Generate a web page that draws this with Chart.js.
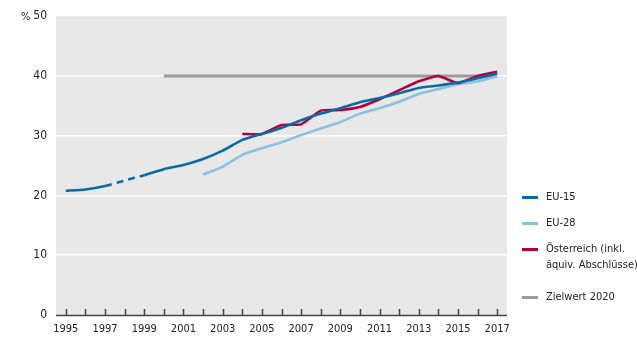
<!DOCTYPE html>
<html>
<head>
<meta charset="utf-8">
<script src="https://cdn.jsdelivr.net/npm/chart.js@4"></script>
<style>
  body { margin: 0; background: #fff; }
  #wrap { position: relative; width: 637px; height: 338px; }
  .legende { position: absolute; left: 522px; top: 189px; font-family: "DejaVu Sans Condensed", "Liberation Sans Narrow", Roboto, sans-serif; font-stretch: condensed; font-size: 11px; color: #222; white-space: nowrap; }
  .legende div { position: relative; padding-left: 24px; line-height: 16px; margin-bottom: 10px; }
  .legende div:nth-child(3) { margin-bottom: 16px; }
  .legende span { position: absolute; left: 0; top: 7px; width: 16px; height: 3px; }
</style>
</head>
<body>
<div id="wrap">
  <canvas id="grafik" width="637" height="338"></canvas>
  <div class="legende" id="legende"></div>
</div>
<script>
const jahre = ["1995","1996","1997","1998","1999","2000","2001","2002","2003","2004","2005","2006",
               "2007","2008","2009","2010","2011","2012","2013","2014","2015","2016","2017"];
const eu15 = [20.8, 21.0, 21.6, 22.5, 23.4, 24.4, 25.1, 26.1, 27.5, 29.3, 30.3, 31.3,
              32.6, 33.7, 34.6, 35.6, 36.3, 37.1, 38.0, 38.4, 38.9, 39.6, 40.4];
const eu28 = [null, null, null, null, null, null, null, 23.5, 24.8, 26.8, 27.9, 28.9,
              30.1, 31.2, 32.3, 33.7, 34.6, 35.7, 37.0, 37.8, 38.6, 39.1, 39.9];
const oesterreich = [null, null, null, null, null, null, null, null, null, 30.3, 30.3, 31.8,
                     31.9, 34.2, 34.3, 34.8, 36.1, 37.6, 39.1, 40.0, 38.8, 40.0, 40.7];
const zielwert = [null, null, null, null, null, 40, 40, 40, 40, 40, 40, 40,
                  40, 40, 40, 40, 40, 40, 40, 40, 40, 40, 40];
const eu15Gestrichelt = ["1997", "1999"]; // Bruch in der Reihe
const yTicks = [0, 10, 20, 30, 40, 50];

const farben = { eu15: "#0b6aa2", eu28: "#8bc0e0", at: "#b3003e", ziel: "#9b9b9b" };
const schrift = "'DejaVu Sans Condensed', 'Liberation Sans Narrow', Roboto, sans-serif";

const legendeEintraege = [
  { text: "EU-15", farbe: farben.eu15 },
  { text: "EU-28", farbe: farben.eu28 },
  { text: "Österreich (inkl.<br>äquiv. Abschlüsse)", farbe: farben.at },
  { text: "Zielwert 2020", farbe: farben.ziel }
];
document.getElementById("legende").innerHTML = legendeEintraege
  .map(e => `<div><span style="background:${e.farbe}"></span>${e.text}</div>`).join("");

const hintergrund = {
  id: "hintergrund",
  beforeDraw(chart) {
    const { ctx, chartArea: a } = chart;
    ctx.save();
    ctx.fillStyle = "#e8e8e8";
    ctx.fillRect(a.left, a.top, a.right - a.left, a.bottom - a.top);
    ctx.restore();
  },
  afterDraw(chart) {
    const { ctx, chartArea: a, scales } = chart;
    ctx.save();
    ctx.strokeStyle = "#444";
    ctx.lineWidth = 1.5;
    ctx.beginPath();
    ctx.moveTo(a.left, a.bottom + 0.5);
    ctx.lineTo(a.right, a.bottom + 0.5);
    jahre.forEach((j, i) => {
      const x = Math.round(scales.x.getPixelForValue(i)) + 0.5;
      ctx.moveTo(x, a.bottom);
      ctx.lineTo(x, a.bottom - 6);
    });
    ctx.stroke();
    ctx.fillStyle = "#222";
    ctx.font = "11px " + schrift;
    ctx.textBaseline = "middle";
    ctx.fillText("%", 21, scales.y.getPixelForValue(50) + 1);
    ctx.restore();
  }
};

const d0 = jahre.indexOf(eu15Gestrichelt[0]);
const d1 = jahre.indexOf(eu15Gestrichelt[1]);

new Chart(document.getElementById("grafik").getContext("2d"), {
  type: "line",
  data: {
    labels: jahre,
    datasets: [
      { label: "EU-15", data: eu15, borderColor: farben.eu15, borderWidth: 2.6,
        segment: { borderDash: c => (c.p0DataIndex >= d0 && c.p0DataIndex < d1) ? [7, 5] : undefined } },
      { label: "Österreich (inkl. äquiv. Abschlüsse)", data: oesterreich, borderColor: farben.at, borderWidth: 2.6 },
      { label: "EU-28", data: eu28, borderColor: farben.eu28, borderWidth: 2.6 },
      { label: "Zielwert 2020", data: zielwert, borderColor: farben.ziel, borderWidth: 3 }
    ]
  },
  options: {
    responsive: false,
    animation: false,
    layout: { padding: { top: 16, right: 130, left: 0, bottom: 0 } },
    elements: { point: { radius: 0 }, line: { tension: 0.15, borderCapStyle: "butt" } },
    plugins: { legend: { display: false }, tooltip: { enabled: false } },
    scales: {
      x: {
        offset: true,
        grid: { display: false, drawTicks: false },
        border: { display: false },
        afterFit: s => { s.height = 23; },
        ticks: {
          autoSkip: false, maxRotation: 0, padding: 8, color: "#222",
          font: { family: schrift, size: 11 },
          callback: (v, i) => (i % 2 === 0 ? jahre[i] : "")
        }
      },
      y: {
        min: 0, max: 50,
        afterBuildTicks: s => { s.ticks = yTicks.map(v => ({ value: v })); },
        afterFit: s => { s.width = 56; },
        grid: { color: c => (c.tick.value > 0 && c.tick.value < 50 ? "#ffffff" : "rgba(0,0,0,0)"), lineWidth: 1.5, drawTicks: false },
        border: { display: false },
        ticks: {
          padding: 9, color: "#222",
          font: { family: schrift, size: 12 }
        }
      }
    }
  },
  plugins: [hintergrund]
});
</script>
</body>
</html>
